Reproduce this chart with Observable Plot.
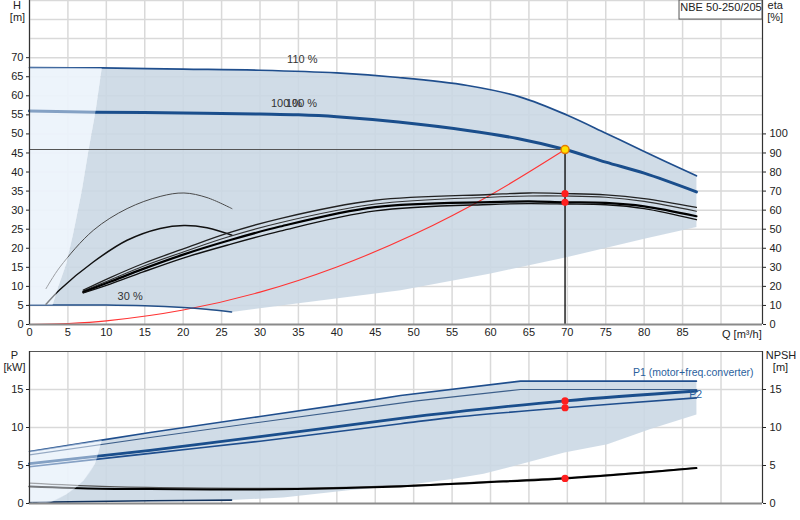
<!DOCTYPE html>
<html><head><meta charset="utf-8">
<script src="https://cdn.jsdelivr.net/npm/d3@7"></script>
<script src="https://cdn.jsdelivr.net/npm/@observablehq/plot@0.6"></script>
<style>
body{margin:0;background:#fff;}
#chart{width:800px;height:520px;overflow:hidden;}
#chart svg{display:block;}
</style></head><body><div id="chart"></div>
<script>
// ---------- tick labels ----------
const Q_TICKS = [0,5,10,15,20,25,30,35,40,45,50,55,60,65,70,75,80,85];
const GRID_Q = [0,5,10,15,20,25,30,35,40,45,50,55,60,65,70,75,80,85,90];
const H_TICKS = [0,5,10,15,20,25,30,35,40,45,50,55,60,65,70];
const GRID_H = [5,10,15,20,25,30,35,40,45,50,55,60,65,70,75,80,85];
const ETA_TICKS = [0,10,20,30,40,50,60,70,80,90,100];
const P_TICKS = [0,5,10,15];
const NPSH_TICKS = [0,5,10,15];
const GRID_P = [5,10,15];

// ---------- head curves (Q m3/h, H m) ----------
const Q110 = [0, 9.4, 20, 30, 40, 48, 57, 64, 70, 75, 80, 86.8];
const H110 = [67.4, 67.3, 67.0, 66.7, 66.0, 64.8, 62.7, 59.6, 54.9, 50.2, 45.4, 39.0];
const Q100 = [0, 8.6, 20, 30, 35, 40, 48, 57, 63.5, 69.7, 75, 80, 86.8];
const H100 = [56.0, 55.7, 55.5, 55.2, 55.0, 54.5, 53.1, 50.9, 48.8, 45.9, 42.6, 39.7, 34.8];
const Q30 = [0, 10, 15, 20, 23, 26.3];
const H30 = [5.1, 5.1, 4.9, 4.45, 4.0, 3.3];
const EDGE_Q = [9.4, 8.6, 7.7, 6.8, 5.7, 4.8, 3.75, 3.0];
const EDGE_H = [67.3, 56, 46, 35, 24, 16, 10, 5.1];
const LOW_Q = [26.3, 35, 48.3, 60, 70, 80, 86.8];
const LOW_H = [3.3, 5.6, 9.0, 13.4, 17.7, 22.5, 25.6];
const SYS_Q = [0, 5, 10, 20, 30, 40, 50, 60, 69.7];
const SYS_H = [0, 0.25, 0.95, 3.8, 8.5, 15.1, 23.6, 34.0, 45.9];

// ---------- efficiency curves (eta %) ----------
const EFF_Q = [7, 10.5, 14.8, 20.1, 25.7, 32.6, 45, 60, 65, 69.7, 75, 80, 86.8];
const ETA1 = [18, 24.6, 32, 39.8, 47.8, 55.6, 65.2, 68.2, 69, 68.7, 68, 66, 61.4];
const ETA2 = [17.6, 23.4, 30.6, 38.2, 45.8, 53.4, 63.2, 66.8, 67.4, 67.4, 66.8, 64.6, 59.4];
const ETA3 = [17, 22.4, 29.2, 36.8, 43.8, 51.4, 61.6, 64.2, 64.6, 64.1, 63.8, 62, 56.8];
const ETA4 = [16.6, 21.2, 27.6, 35, 41.6, 49, 59.6, 63, 63.4, 63.2, 62.8, 60.8, 55];
const S1_Q = [2.15, 3.97, 8.3, 12.7, 17, 20.1, 23.1, 26.35];
const S1_ETA = [18.8, 30.2, 49.4, 60.8, 67.2, 69, 66.6, 60.8];
const S2_Q = [2.15, 3.97, 8.3, 12.7, 17, 20.1, 23.1, 26.35];
const S2_ETA = [10.6, 18.4, 32.8, 44.2, 50.4, 52, 50.8, 46.8];

// ---------- duty point ----------
const Q_OP = 69.7;
const H_OP = 45.9;
const ETA_OP = [68.7, 64.1];
const P_OP = [13.5, 12.6];
const NPSH_OP = 3.3;

// ---------- power curves (kW) ----------
const L1_Q = [0, 9.4, 15.7, 30, 43.9, 48.3, 63.9, 86.8];
const L1_P = [6.85, 8.34, 9.34, 11.45, 13.5, 14.2, 16.1, 16.1];
const L2_Q = [0, 15.7, 30, 50.4, 63.9, 86.8];
const L2_P = [6.4, 8.68, 10.7, 13.5, 15.0, 15.0];
const L3_Q = [0, 15.7, 30, 48.3, 54.8, 69.7, 86.8];
const L3_P = [5.26, 7.0, 8.8, 11.2, 11.97, 13.5, 14.8];
const L4_Q = [0, 15.7, 30, 48.3, 54.8, 69.7, 86.8];
const L4_P = [4.83, 6.6, 8.2, 10.5, 11.3, 12.6, 13.9];
const P30_Q = [0, 2.7, 15.7, 26.3];
const P30_P = [0.12, 0.18, 0.36, 0.45];
const PEDGE_Q = [9.4, 8.9, 8.5, 7.0, 4.85, 2.7];
const PEDGE_P = [8.34, 6.5, 5.2, 3.0, 1.24, 0.18];
const PLOW_Q = [26.3, 33, 41.8, 48.3, 54.8, 59.1, 69.6, 75.2, 80.8, 86.8];
const PLOW_P = [0.45, 0.8, 1.76, 2.33, 3.2, 3.9, 6.7, 7.8, 9.8, 11.7];
// NPSH curves (m)
const N1_Q = [0, 9.4, 20, 35, 48.3, 60, 69.7, 86.8];
const N1_V = [2.68, 2.25, 2.05, 2.0, 2.35, 2.9, 3.4, 4.7];
const N2_Q = [0, 9.2, 15.7, 30, 40, 48.3, 54.8, 59.1, 69.7, 78, 86.8];
const N2_V = [2.24, 1.95, 1.9, 1.85, 2.0, 2.24, 2.55, 2.76, 3.3, 3.9, 4.66];

// ---------- helpers ----------
const zip = (qs, vs) => qs.map((q, i) => ({q, v: vs[i]}));
const XMAX = 95.4;
const FONT = "'Liberation Sans', Arial, sans-serif";

const p110 = zip(Q110, H110), pEdge = zip(EDGE_Q, EDGE_H), p30 = zip(Q30, H30), pLow = zip(LOW_Q, LOW_H);
const topLight = [...p110.filter(d => d.q <= 9.4), ...pEdge, ...p30.filter(d => d.q <= 3).reverse()];
const topGray = [...pEdge.slice().reverse(), ...p110.filter(d => d.q > 9.4), ...pLow.slice().reverse(), ...p30.filter(d => d.q > 3).reverse()];
const pL1 = zip(L1_Q, L1_P), pPE = zip(PEDGE_Q, PEDGE_P), pP30 = zip(P30_Q, P30_P), pPL = zip(PLOW_Q, PLOW_P);
const botLight = [...pL1.filter(d => d.q <= 9.4), ...pPE, ...pP30.filter(d => d.q < 2.7).reverse()];
const botGray = [...pPE.slice().reverse(), ...pL1.filter(d => d.q > 9.4), ...pPL.slice().reverse(), ...pP30.filter(d => d.q > 2.7).reverse()];

const eta = (qs, es) => qs.map((q, i) => ({q, v: es[i] / 2}));
const ln = (data, stroke, w, extra = {}) => Plot.line(data, {x: "q", y: "v", stroke, strokeWidth: w, curve: "catmull-rom", ...extra});
const lbl = (s, o) => Plot.text([s], {fontSize: 11, fill: "#222", textAnchor: "middle", lineAnchor: "middle", ...o});

const GRID = {stroke: "#d9d9d9", strokeWidth: 1.5};
const LIGHT = "#eaf3fb", GRAY = "#cad7e4";
const BLUE = "#1f4e8d";

const headChart = Plot.plot({
  width: 800, height: 340, marginTop: 0, marginBottom: 16, marginLeft: 29, marginRight: 38,
  x: {domain: [0, XMAX]}, y: {domain: [0, 85]},
  style: {fontFamily: FONT, fontSize: "11px", color: "#222", background: "transparent", overflow: "visible"},
  marks: [
    Plot.ruleX(GRID_Q, GRID),
    Plot.ruleY(GRID_H, GRID),
    Plot.line(topLight, {x: "q", y: "v", fill: LIGHT, fillOpacity: 0.88, stroke: "none"}),
    Plot.line(topGray, {x: "q", y: "v", fill: GRAY, fillOpacity: 0.88, stroke: "none", curve: "linear"}),
    ln(zip(SYS_Q, SYS_H), "#ff3434", 1.1),
    ln(zip(Q110, H110), BLUE, 1.7),
    ln(zip(Q100, H100), "#1a4e8c", 3),
    ln(p30, "#234f88", 1.5),
    ln(eta(S1_Q, S1_ETA), "#4a4a4a", 1),
    ln(eta(S2_Q, S2_ETA), "#111", 1.5),
    ln(eta(EFF_Q, ETA1), "#222", 1.3),
    ln(eta(EFF_Q, ETA2), "#333", 1.1),
    ln(eta(EFF_Q, ETA3), "#000", 2.2),
    ln(eta(EFF_Q, ETA4), "#111", 1.4),
    Plot.line(topLight, {x: "q", y: "v", fill: "#edf4fb", fillOpacity: 0.5, stroke: "none"}),
    Plot.ruleY([H_OP], {x1: 0, x2: Q_OP, stroke: "#555", strokeWidth: 1.1}),
    Plot.ruleX([Q_OP], {y1: 0, y2: H_OP, stroke: "#000", strokeWidth: 1.3}),
    Plot.dot(ETA_OP, {x: () => Q_OP, y: d => d / 2, r: 3.6, fill: "#ff1e1e", stroke: "none"}),
    Plot.dot([H_OP], {x: () => Q_OP, y: d => d, r: 4, fill: "#ffe100", stroke: "#e57a00", strokeWidth: 1.5}),
    lbl("110 %", {x: 35.5, y: 69.6, fill: "#333"}),
    lbl("100 %", {x: 33.45, y: 58.05, fill: "#333"}),
    lbl("100 %", {x: 35.4, y: 58.05, fill: "#333"}),
    lbl("30 %", {x: 13.1, y: 7.3, fill: "#333"}),
    Plot.ruleY([0], {stroke: "#8a8a8a", strokeWidth: 2.2}),
    Plot.ruleX([0], {stroke: "#333", strokeWidth: 1.2}),
    Plot.ruleX([XMAX], {stroke: "#333", strokeWidth: 1.2}),
    Plot.axisX(Q_TICKS, {tickSize: 0, tickPadding: 4, label: null, fontSize: 11}),
    Plot.axisY(H_TICKS, {anchor: "left", tickSize: 3, tickPadding: 3, label: null, fontSize: 11}),
    Plot.axisY(ETA_TICKS.map(e => e / 2), {anchor: "right", tickSize: 3, tickPadding: 4, tickFormat: d => d * 2, label: null, fontSize: 11}),
    lbl("Q [m³/h]", {x: 90, y: 0, dy: 10, dx: 1, textAnchor: "start"}),
    Plot.rect([0], {x1: 84.6, x2: XMAX, y1: 80.0, y2: 85, fill: "white", stroke: "#555", strokeWidth: 1}),
    lbl("NBE 50-250/205", {x: 90, y: 83.1}),
    lbl("H", {frameAnchor: "top-left", dx: -12.5, dy: 5}),
    lbl("[m]", {frameAnchor: "top-left", dx: -12, dy: 16.7}),
    lbl("eta", {frameAnchor: "top-right", dx: 12.7, dy: 5}),
    lbl("[%]", {frameAnchor: "top-right", dx: 12.7, dy: 16.7})
  ]
});

const powerChart = Plot.plot({
  width: 800, height: 180, marginTop: 11, marginBottom: 17, marginLeft: 29, marginRight: 38,
  x: {domain: [0, XMAX], axis: null}, y: {domain: [0, 20]},
  style: {fontFamily: FONT, fontSize: "11px", color: "#222", background: "transparent", overflow: "visible"},
  marks: [
    Plot.ruleX(GRID_Q, GRID),
    Plot.ruleY(GRID_P, GRID),
    Plot.line(botLight, {x: "q", y: "v", fill: LIGHT, fillOpacity: 0.88, stroke: "none", curve: "catmull-rom"}),
    Plot.line(botGray, {x: "q", y: "v", fill: GRAY, fillOpacity: 0.88, stroke: "none", curve: "linear"}),
    ln(zip(L1_Q, L1_P), BLUE, 1.6, {curve: "linear"}),
    ln(zip(L2_Q, L2_P), "#3d5f8a", 1.1, {curve: "linear"}),
    ln(zip(L3_Q, L3_P), "#1a4e8c", 2.8),
    ln(zip(L4_Q, L4_P), BLUE, 1.6),
    ln(zip(N1_Q, N1_V), "#555", 1.2),
    ln(zip(N2_Q, N2_V), "#000", 2),
    ln(pP30, "#13335e", 1.6),
    Plot.line(botLight, {x: "q", y: "v", fill: "#edf4fb", fillOpacity: 0.5, stroke: "none", curve: "catmull-rom"}),
    Plot.dot(P_OP, {x: () => Q_OP, y: d => d, r: 3.6, fill: "#ff1e1e", stroke: "none"}),
    Plot.dot([NPSH_OP], {x: () => Q_OP, y: d => d, r: 3.6, fill: "#ff1e1e", stroke: "none"}),
    Plot.ruleY([0], {stroke: "#8a8a8a", strokeWidth: 2.2}),
    Plot.ruleY([20], {stroke: "#555", strokeWidth: 1.2}),
    Plot.ruleX([0], {stroke: "#333", strokeWidth: 1.2}),
    Plot.ruleX([XMAX], {stroke: "#333", strokeWidth: 1.2}),
    Plot.axisY(P_TICKS, {anchor: "left", tickSize: 3, tickPadding: 3, label: null, fontSize: 11}),
    Plot.axisY(NPSH_TICKS, {anchor: "right", tickSize: 3, tickPadding: 4, label: null, fontSize: 11}),
    lbl("P", {frameAnchor: "top-left", dx: -15, dy: 4}),
    lbl("[kW]", {frameAnchor: "top-left", dx: -15, dy: 15.7}),
    lbl("NPSH", {frameAnchor: "top-right", dx: 18.5, dy: 4}),
    lbl("[m]", {frameAnchor: "top-right", dx: 18, dy: 15.7}),
    lbl("P1 (motor+freq.converter)", {frameAnchor: "top-right", dx: -9, dy: 21.3, textAnchor: "end", fontSize: 10.5, fill: "#2b5f9d"}),
    lbl("P2", {x: 86.7, y: 14.3, fontSize: 10.5, fill: "#2b5f9d"})
  ]
});

const chart = document.getElementById("chart");
chart.appendChild(headChart);
chart.appendChild(powerChart);
</script></body></html>
